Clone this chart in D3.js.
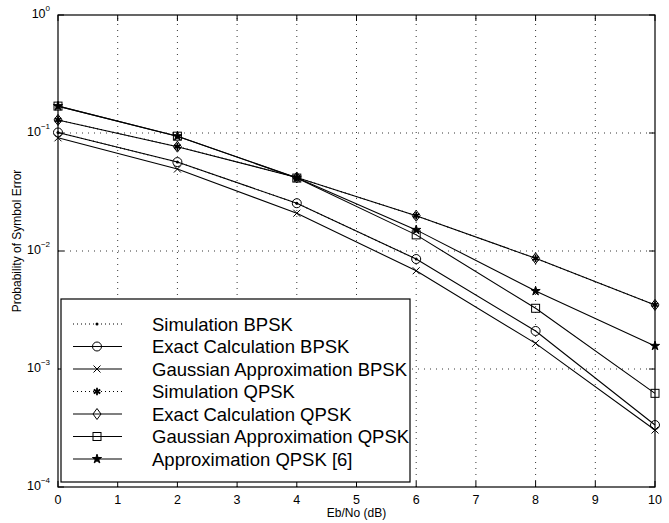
<!DOCTYPE html>
<html>
<head>
<meta charset="utf-8">
<script src="https://cdn.jsdelivr.net/npm/d3@7"></script>
<style>
  body { margin: 0; background: #fff; }
  svg { font-family: "Liberation Sans", Arial, sans-serif; }
</style>
</head>
<body>
<svg id="chart" width="669" height="523"></svg>
<script>
// Eb/No values (dB)
var ebno = [0, 2, 4, 6, 8, 10];

// probability of symbol error
var simBPSK    = [0.101, 0.0567, 0.0254, 0.00855];
var exactBPSK  = [0.101, 0.0567, 0.0254, 0.00855, 0.0021, 0.000335];
var gaussBPSK  = [0.091, 0.0495, 0.0209, 0.0068, 0.00165, 0.000304];
var simQPSK    = [0.129, 0.0766, 0.042, 0.0199, 0.00867, 0.00349];
var exactQPSK  = [0.129, 0.0766, 0.042, 0.0199, 0.00867, 0.00349];
var gaussQPSK  = [0.169, 0.094, 0.0415, 0.0137, 0.00327, 0.000622];
var approxQPSK = [0.169, 0.094, 0.0418, 0.0151, 0.00458, 0.00157];

var xTicks = [0, 1, 2, 3, 4, 5, 6, 7, 8, 9, 10];
var yTicks = [0, -1, -2, -3, -4]; // exponents

var series = [
  { name: 'Simulation BPSK', values: simBPSK, marker: 'dot', dash: '1,3' },
  { name: 'Exact Calculation BPSK', values: exactBPSK, marker: 'circle', dash: null },
  { name: 'Gaussian Approximation BPSK', values: gaussBPSK, marker: 'x', dash: null },
  { name: 'Simulation QPSK', values: simQPSK, marker: 'asterisk', dash: '1,3' },
  { name: 'Exact Calculation QPSK', values: exactQPSK, marker: 'diamond', dash: null },
  { name: 'Gaussian Approximation QPSK', values: gaussQPSK, marker: 'square', dash: null },
  { name: 'Approximation QPSK [6]', values: approxQPSK, marker: 'star', dash: null }
];

var margin = { left: 58, top: 15, right: 14, bottom: 36 };
var width = 669, height = 523;
var svg = d3.select('#chart');

var x = d3.scaleLinear().domain([0, 10]).range([margin.left, width - margin.right]);
var y = d3.scaleLog().domain([1e-4, 1]).range([height - margin.bottom, margin.top]);

var x0 = x.range()[0], x1 = x.range()[1], y0 = y.range()[0], y1 = y.range()[1];

// grid
var grid = svg.append('g').attr('stroke', '#000').attr('stroke-width', 0.8)
    .attr('stroke-dasharray', '1,5');
grid.selectAll('line.gx')
    .data(xTicks.slice(1, -1))
  .enter().append('line')
    .attr('x1', function(d) { return x(d); })
    .attr('x2', function(d) { return x(d); })
    .attr('y1', y0).attr('y2', y1);
grid.selectAll('line.gy')
    .data(yTicks.slice(1, -1))
  .enter().append('line')
    .attr('y1', function(d) { return y(Math.pow(10, d)); })
    .attr('y2', function(d) { return y(Math.pow(10, d)); })
    .attr('x1', x0).attr('x2', x1);

// box and ticks
svg.append('rect')
    .attr('x', x0).attr('y', y1)
    .attr('width', x1 - x0).attr('height', y0 - y1)
    .attr('fill', 'none').attr('stroke', '#000').attr('stroke-width', 1.2);

var ticks = svg.append('g').attr('stroke', '#000').attr('stroke-width', 1);
xTicks.forEach(function(d) {
  ticks.append('line').attr('x1', x(d)).attr('x2', x(d)).attr('y1', y0).attr('y2', y0 - 6);
  ticks.append('line').attr('x1', x(d)).attr('x2', x(d)).attr('y1', y1).attr('y2', y1 + 6);
});
yTicks.forEach(function(d) {
  var yy = y(Math.pow(10, d));
  ticks.append('line').attr('x1', x0).attr('x2', x0 + 6).attr('y1', yy).attr('y2', yy);
  ticks.append('line').attr('x1', x1).attr('x2', x1 - 6).attr('y1', yy).attr('y2', yy);
});

// tick labels
svg.append('g').selectAll('text')
    .data(xTicks)
  .enter().append('text')
    .attr('x', function(d) { return x(d); })
    .attr('y', y0 + 17)
    .attr('text-anchor', 'middle')
    .attr('font-size', 12.5)
    .text(function(d) { return d; });

var ylab = svg.append('g').selectAll('text')
    .data(yTicks)
  .enter().append('text')
    .attr('x', x0 - 8)
    .attr('y', function(d) { return y(Math.pow(10, d)) + 3; })
    .attr('text-anchor', 'end')
    .attr('font-size', 12.5);
ylab.append('tspan').text('10');
ylab.append('tspan')
    .attr('dy', -7)
    .attr('font-size', 8)
    .text(function(d) { return d === 0 ? '0' : '\u2212' + (-d); });

// axis titles
svg.append('text')
    .attr('x', (x0 + x1) / 2)
    .attr('y', height - 6)
    .attr('text-anchor', 'middle')
    .attr('font-size', 12)
    .text('Eb/No (dB)');
svg.append('text')
    .attr('transform', 'translate(21,' + 241 + ') rotate(-90)')
    .attr('text-anchor', 'middle')
    .attr('font-size', 12)
    .text('Probability of Symbol Error');

// markers
function drawMarker(g, type, cx, cy) {
  if (type === 'dot') {
    g.append('circle').attr('cx', cx).attr('cy', cy).attr('r', 1.5).attr('fill', '#000');
  } else if (type === 'circle') {
    g.append('circle').attr('cx', cx).attr('cy', cy).attr('r', 4.5)
        .attr('fill', 'none').attr('stroke', '#000');
  } else if (type === 'x') {
    g.append('path').attr('d', 'M' + (cx - 3.5) + ',' + (cy - 3.5) + 'L' + (cx + 3.5) + ',' + (cy + 3.5) +
        'M' + (cx - 3.5) + ',' + (cy + 3.5) + 'L' + (cx + 3.5) + ',' + (cy - 3.5))
        .attr('stroke', '#000').attr('fill', 'none');
  } else if (type === 'asterisk') {
    g.append('path').attr('d', d3.symbol().type(d3.symbolAsterisk).size(40)())
        .attr('transform', 'translate(' + cx + ',' + cy + ')')
        .attr('stroke', '#000').attr('stroke-width', 1.8).attr('fill', 'none');
  } else if (type === 'diamond') {
    g.append('path').attr('d', 'M' + cx + ',' + (cy - 5.5) + 'L' + (cx + 4) + ',' + cy +
        'L' + cx + ',' + (cy + 5.5) + 'L' + (cx - 4) + ',' + cy + 'Z')
        .attr('stroke', '#000').attr('fill', 'none');
  } else if (type === 'square') {
    g.append('rect').attr('x', cx - 4).attr('y', cy - 4).attr('width', 8).attr('height', 8)
        .attr('stroke', '#000').attr('fill', 'none');
  } else if (type === 'star') {
    g.append('path').attr('d', d3.symbol().type(d3.symbolStar).size(26)())
        .attr('transform', 'translate(' + cx + ',' + cy + ')')
        .attr('stroke', '#000').attr('fill', '#000');
  }
}

var line = d3.line()
    .x(function(d) { return x(d.x); })
    .y(function(d) { return y(d.y); });

series.forEach(function(s) {
  var pts = s.values.map(function(v, i) { return { x: ebno[i], y: v }; });
  var g = svg.append('g');
  g.append('path')
      .datum(pts)
      .attr('d', line)
      .attr('fill', 'none')
      .attr('stroke', '#000')
      .attr('stroke-width', 1.1)
      .attr('stroke-dasharray', s.dash);
  pts.forEach(function(p) { drawMarker(g, s.marker, x(p.x), y(p.y)); });
});

// legend
var lg = svg.append('g');
lg.append('rect')
    .attr('x', 61).attr('y', 299)
    .attr('width', 349).attr('height', 183)
    .attr('fill', '#fff').attr('stroke', '#000').attr('stroke-width', 1.2);
series.forEach(function(s, i) {
  var ly = 324 + i * 22.5;
  lg.append('line')
      .attr('x1', 73).attr('x2', 122).attr('y1', ly).attr('y2', ly)
      .attr('stroke', '#000').attr('stroke-width', 1.1)
      .attr('stroke-dasharray', s.dash);
  drawMarker(lg, s.marker, 97, ly);
  lg.append('text')
      .attr('x', 152).attr('y', ly + 6.5)
      .attr('font-size', 18.5)
      .text(s.name);
});
</script>
</body>
</html>
